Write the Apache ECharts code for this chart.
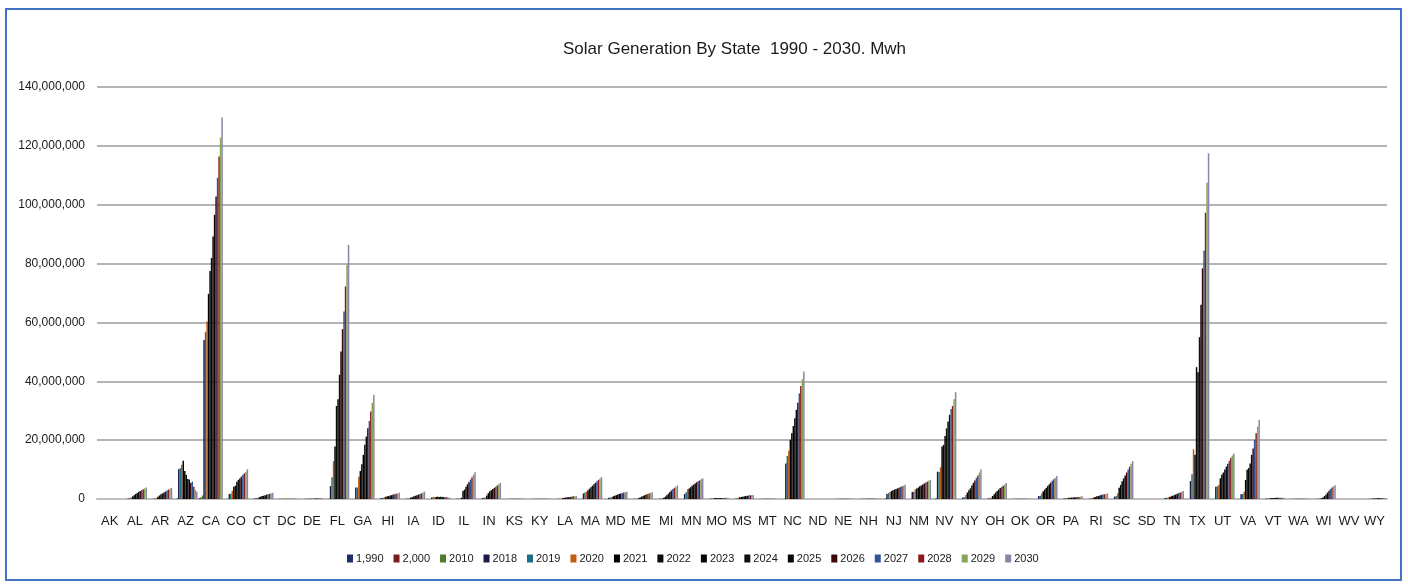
<!DOCTYPE html>
<html>
<head>
<meta charset="utf-8">
<title>Solar Generation By State</title>
<script src="https://cdn.jsdelivr.net/npm/echarts@6/dist/echarts.min.js"></script>
<style>
	html, body { margin: 0; padding: 0; background: #fff; }
	#main { width: 1408px; height: 586px; }
</style>
</head>
<body>
<div id="main"></div>
<script>
// 州名 (x轴)
var states = ['AK', 'AL', 'AR', 'AZ', 'CA', 'CO', 'CT', 'DC', 'DE', 'FL',
	'GA', 'HI', 'IA', 'ID', 'IL', 'IN', 'KS', 'KY', 'LA', 'MA',
	'MD', 'ME', 'MI', 'MN', 'MO', 'MS', 'MT', 'NC', 'ND', 'NE',
	'NH', 'NJ', 'NM', 'NV', 'NY', 'OH', 'OK', 'OR', 'PA', 'RI',
	'SC', 'SD', 'TN', 'TX', 'UT', 'VA', 'VT', 'WA', 'WI', 'WV',
	'WY'];

// 图例名字
var years = ['1,990', '2,000', '2010', '2018', '2019', '2020', '2021', '2022', '2023',
	'2024', '2025', '2026', '2027', '2028', '2029', '2030'];

// 数据, 单位: 百万 Mwh (按上面州的顺序)
var y1990 = [0, 0, 0, 0, 0.3, 0, 0, 0, 0, 0,
	0, 0, 0, 0, 0, 0, 0, 0, 0, 0,
	0, 0, 0, 0, 0, 0, 0, 0, 0, 0,
	0, 0, 0, 0, 0, 0, 0, 0, 0, 0,
	0, 0, 0, 0, 0, 0, 0, 0, 0, 0,
	0];
var y2000 = [0, 0, 0, 0, 0.5, 0, 0, 0, 0, 0,
	0, 0, 0, 0, 0, 0, 0, 0, 0, 0,
	0, 0, 0, 0, 0, 0, 0, 0, 0, 0,
	0, 0, 0, 0, 0, 0, 0, 0, 0, 0,
	0, 0, 0, 0, 0, 0, 0, 0, 0, 0,
	0];
var y2010 = [0, 0, 0, 0.3, 1.2, 0.1, 0, 0, 0, 0.1,
	0, 0, 0, 0, 0, 0, 0, 0, 0, 0,
	0, 0, 0, 0, 0, 0, 0, 0.1, 0, 0,
	0, 0.3, 0, 0.3, 0, 0, 0, 0, 0, 0,
	0, 0, 0, 0, 0, 0, 0, 0, 0, 0,
	0];
var y2018 = [0, 0.2, 0.1, 10.1, 54.0, 1.7, 0.2, 0.05, 0.1, 4.4,
	3.9, 0.3, 0.1, 0.5, 0.1, 0.3, 0.05, 0.05, 0.1, 1.9,
	0.4, 0.05, 0.1, 1.7, 0.1, 0.1, 0.05, 12.1, 0, 0.05,
	0.1, 1.7, 2.4, 9.3, 0.5, 0.2, 0.05, 1.0, 0.2, 0.1,
	0.8, 0, 0.3, 6.1, 4.2, 1.6, 0.2, 0.05, 0.1, 0,
	0.05];
var y2019 = [0, 0.3, 0.2, 10.5, 56.7, 1.9, 0.3, 0.05, 0.1, 7.4,
	3.9, 0.4, 0.2, 0.6, 0.1, 0.4, 0.05, 0.05, 0.1, 2.2,
	0.5, 0.1, 0.2, 2.3, 0.2, 0.2, 0.05, 14.6, 0, 0.05,
	0.1, 2.0, 2.5, 9.2, 0.6, 0.3, 0.05, 1.1, 0.3, 0.2,
	1.0, 0, 0.4, 8.4, 4.3, 1.7, 0.2, 0.05, 0.1, 0,
	0.05];
var y2020 = [0, 0.5, 0.4, 11.6, 60.3, 2.8, 0.4, 0.05, 0.1, 12.9,
	7.6, 0.5, 0.3, 0.7, 0.2, 0.5, 0.05, 0.05, 0.2, 2.5,
	0.7, 0.1, 0.2, 3.3, 0.2, 0.4, 0.05, 16.4, 0, 0.05,
	0.1, 2.4, 3.3, 10.8, 1.4, 0.5, 0.05, 1.9, 0.3, 0.3,
	1.9, 0, 0.5, 16.9, 4.8, 2.5, 0.3, 0.05, 0.2, 0,
	0.1];
var y2021 = [0, 0.9, 0.8, 13.0, 69.7, 4.2, 0.6, 0.05, 0.1, 17.8,
	9.5, 0.7, 0.5, 0.7, 0.4, 1.2, 0.05, 0.05, 0.3, 3.0,
	0.9, 0.3, 0.4, 3.6, 0.3, 0.6, 0.05, 20.1, 0, 0.05,
	0.1, 2.7, 3.6, 17.8, 2.2, 1.0, 0.05, 2.6, 0.4, 0.5,
	3.8, 0, 0.7, 15.0, 7.0, 6.5, 0.3, 0.05, 0.3, 0,
	0.1];
var y2022 = [0, 1.3, 1.2, 9.5, 77.5, 4.5, 0.8, 0.05, 0.1, 31.6,
	11.8, 0.9, 0.7, 0.8, 2.7, 2.0, 0.05, 0.05, 0.4, 3.5,
	1.1, 0.5, 0.8, 4.0, 0.3, 0.7, 0.05, 22.3, 0, 0.05,
	0.1, 3.0, 3.9, 18.4, 3.0, 1.6, 0.05, 3.2, 0.4, 0.7,
	4.8, 0, 0.9, 44.8, 8.2, 9.9, 0.3, 0.05, 0.5, 0,
	0.2];
var y2023 = [0, 1.7, 1.6, 8.2, 81.9, 5.9, 1.0, 0.05, 0.1, 33.9,
	15.0, 1.0, 0.9, 0.7, 3.2, 2.6, 0.05, 0.05, 0.5, 4.0,
	1.3, 0.8, 1.3, 4.5, 0.3, 0.8, 0.05, 24.8, 0, 0.05,
	0.1, 3.2, 4.3, 21.4, 3.6, 2.2, 0.05, 3.8, 0.5, 0.9,
	6.0, 0, 1.1, 43.1, 9.0, 10.5, 0.3, 0.05, 1.0, 0,
	0.2];
var y2024 = [0, 2.0, 1.9, 6.8, 89.2, 6.5, 1.1, 0.05, 0.1, 42.2,
	18.4, 1.2, 1.1, 0.8, 4.2, 3.0, 0.05, 0.05, 0.6, 4.5,
	1.5, 1.0, 1.8, 4.9, 0.3, 0.9, 0.05, 27.4, 0, 0.05,
	0.1, 3.4, 4.6, 24.0, 4.6, 2.7, 0.05, 4.4, 0.5, 1.0,
	7.0, 0, 1.3, 55.0, 10.0, 12.1, 0.4, 0.05, 1.5, 0,
	0.2];
var y2025 = [0, 2.4, 2.2, 6.6, 96.6, 7.0, 1.3, 0.05, 0.2, 50.1,
	21.2, 1.3, 1.3, 0.7, 5.0, 3.4, 0.05, 0.05, 0.6, 5.0,
	1.7, 1.3, 2.4, 5.3, 0.3, 1.0, 0.05, 30.3, 0, 0.05,
	0.1, 3.6, 4.9, 26.3, 5.5, 3.2, 0.05, 5.0, 0.6, 1.2,
	8.0, 0, 1.5, 66.0, 11.0, 15.0, 0.4, 0.05, 2.2, 0,
	0.3];
var y2026 = [0, 2.7, 2.5, 5.4, 102.8, 7.6, 1.5, 0.1, 0.2, 57.7,
	24.0, 1.5, 1.5, 0.7, 5.8, 3.8, 0.05, 0.05, 0.7, 5.5,
	1.9, 1.5, 2.9, 5.7, 0.3, 1.1, 0.05, 32.7, 0, 0.05,
	0.1, 3.8, 5.3, 28.6, 6.3, 3.7, 0.05, 5.6, 0.6, 1.4,
	9.0, 0, 1.8, 78.4, 12.0, 17.2, 0.4, 0.05, 2.8, 0,
	0.3];
var y2027 = [0, 3.0, 2.9, 5.9, 109.2, 8.2, 1.6, 0.1, 0.2, 63.7,
	26.5, 1.6, 1.7, 0.6, 6.6, 4.2, 0.05, 0.05, 0.8, 6.0,
	2.0, 1.7, 3.4, 6.0, 0.3, 1.2, 0.05, 35.9, 0, 0.05,
	0.1, 4.1, 5.6, 30.6, 7.2, 4.1, 0.05, 6.2, 0.7, 1.5,
	10.0, 0, 2.0, 84.4, 13.0, 20.1, 0.4, 0.05, 3.4, 0,
	0.3];
var y2028 = [0, 3.3, 3.2, 4.2, 116.4, 8.7, 1.8, 0.1, 0.2, 72.2,
	29.7, 1.8, 1.9, 0.6, 7.4, 4.6, 0.05, 0.05, 0.9, 6.5,
	2.2, 1.9, 3.8, 6.3, 0.4, 1.3, 0.05, 38.4, 0, 0.05,
	0.1, 4.3, 5.9, 31.6, 8.0, 4.5, 0.05, 6.7, 0.7, 1.6,
	11.0, 0, 2.2, 97.3, 14.0, 22.3, 0.4, 0.05, 3.9, 0,
	0.3];
var y2029 = [0, 3.6, 3.5, 3.1, 122.8, 9.3, 1.9, 0.1, 0.2, 79.6,
	32.7, 1.9, 2.2, 0.5, 8.3, 5.0, 0.05, 0.05, 0.9, 7.0,
	2.3, 2.1, 4.2, 6.7, 0.4, 1.3, 0.05, 40.7, 0, 0.05,
	0.1, 4.5, 6.2, 33.9, 9.0, 4.9, 0.05, 7.2, 0.8, 1.7,
	12.0, 0, 2.5, 107.5, 14.8, 24.6, 0.4, 0.05, 4.3, 0,
	0.3];
var y2030 = [0, 3.9, 3.8, 2.5, 129.6, 10.1, 2.1, 0.1, 0.2, 86.4,
	35.4, 2.1, 2.5, 0.4, 9.1, 5.5, 0.05, 0.05, 1.0, 7.4,
	2.5, 2.3, 4.6, 7.0, 0.4, 1.4, 0.05, 43.3, 0, 0.05,
	0.1, 4.8, 6.5, 36.3, 10.1, 5.4, 0.05, 7.8, 0.9, 1.9,
	12.9, 0, 2.7, 117.5, 15.5, 26.9, 0.4, 0.05, 4.7, 0,
	0.3];

var seriesData = [y1990, y2000, y2010, y2018, y2019, y2020, y2021, y2022, y2023,
	y2024, y2025, y2026, y2027, y2028, y2029, y2030];

// 每个系列的颜色 (照着图例)
var colors = ['#1F2F66', '#7A1C1C', '#4F7A28', '#1B1A48', '#1F6E85', '#C55A11',
	'#000000', '#0A0A0A', '#050505', '#0F0F0F', '#080808', '#3A0808', '#2F5597',
	'#8B1A1A', '#84A556', '#8C84A8'];

var myChart = echarts.init(document.getElementById('main'));

var attrData = [];
seriesData.forEach(function(element, index) {
	attrData.push({
		name: years[index],
		type: 'bar',
		barGap: '0%',
		barCategoryGap: '5%',
		itemStyle: { color: colors[index] },
		data: element.map(function(v) { return v * 1000000; })
	});
});

var option = {
	backgroundColor: '#ffffff',
	color: colors,
	animation: false,
	textStyle: {
		fontFamily: 'Liberation Sans, sans-serif'
	},
	title: {
		text: 'Solar Generation By State  1990 - 2030. Mwh',
		left: 558,
		top: 36,
		textStyle: {
			fontSize: 17,
			fontWeight: 'normal',
			color: '#1a1a1a'
		}
	},
	// 外框
	graphic: [{
		type: 'rect',
		shape: { x: 6, y: 9, width: 1395, height: 571 },
		style: { fill: 'none', stroke: '#4472C4', lineWidth: 2 },
		silent: true
	}],
	legend: {
		bottom: 17,
		left: 342,
		itemWidth: 6,
		itemHeight: 8,
		itemGap: 10,
		icon: 'rect',
		textStyle: { fontSize: 11, color: '#1a1a1a', padding: [0, 0, 0, -2] },
		data: years
	},
	grid: {
		left: 97,
		right: 21,
		top: 87,
		bottom: 87
	},
	xAxis: {
		type: 'category',
		data: states,
		axisTick: { show: false },
		axisLine: { lineStyle: { color: '#BFBFBF', width: 2 } },
		axisLabel: { color: '#1a1a1a', fontSize: 13, margin: 16, interval: 0 }
	},
	yAxis: {
		type: 'value',
		min: 0,
		max: 140000000,
		interval: 20000000,
		axisLine: { show: false },
		axisTick: { show: false },
		splitLine: { lineStyle: { color: '#B4B4B4', width: 2 } },
		axisLabel: {
			color: '#1a1a1a',
			fontSize: 12,
			margin: 12,
			formatter: function(v) {
				return v.toString().replace(/\B(?=(\d{3})+(?!\d))/g, ',');
			}
		}
	},
	series: attrData
};

myChart.setOption(option);
</script>
</body>
</html>
